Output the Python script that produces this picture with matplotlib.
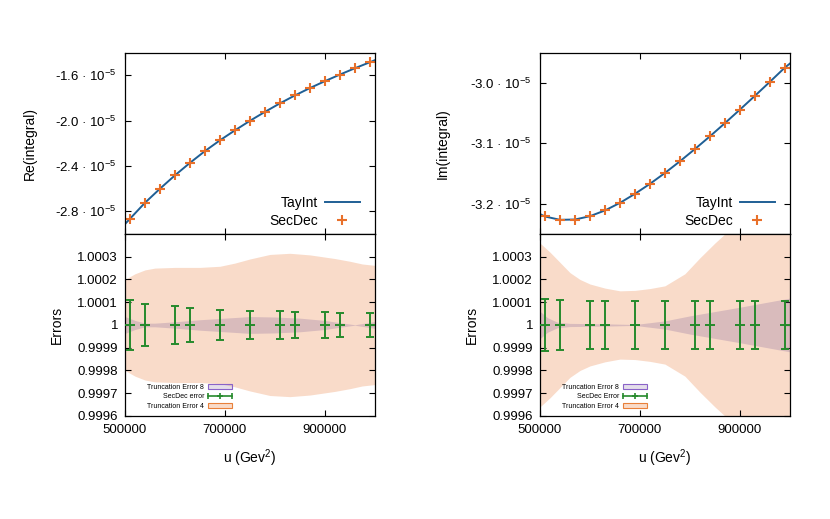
import numpy as np
import matplotlib
matplotlib.use('Agg')
import matplotlib.pyplot as plt
from matplotlib.ticker import FixedLocator, FuncFormatter
from matplotlib.patches import Patch
from matplotlib.lines import Line2D
from matplotlib.legend_handler import HandlerLine2D

plt.rcParams['font.family'] = ['Liberation Sans', 'DejaVu Sans']
plt.rcParams['mathtext.default'] = 'regular'
plt.rcParams['axes.unicode_minus'] = False

# --- data (integral values in units of 1e-5, errors in units of 1e-4) ---
u_sec = [510000, 540000, 570000, 600000, 630000, 660000, 690000, 720000, 750000,
         780000, 810000, 840000, 870000, 900000, 930000, 960000, 990000]
re_sec = [-2.865, -2.724, -2.600, -2.482, -2.372, -2.268, -2.173, -2.085, -2.001,
          -1.922, -1.847, -1.777, -1.712, -1.651, -1.593, -1.537, -1.484]
im_sec = [-3.221, -3.2265, -3.226, -3.2205, -3.211, -3.1985, -3.1835, -3.167, -3.149,
          -3.1297, -3.1094, -3.0884, -3.0666, -3.0442, -3.0214, -2.9982, -2.9746]

u_tay = [500000] + u_sec + [1000000]
re_tay = [-2.912] + re_sec + [-1.466]
im_tay = [-3.217] + im_sec + [-2.968]

# SecDec error bars on the ratio plots
u_err = [510000, 540000, 600000, 630000, 690000, 750000, 810000, 840000, 900000, 930000, 990000]
err_re = [1.09, 0.93, 0.82, 0.74, 0.68, 0.63, 0.60, 0.58, 0.56, 0.54, 0.51]
err_im = [1.14, 1.08, 1.06, 1.05, 1.04, 1.04, 1.04, 1.04, 1.04, 1.05, 1.06]

# truncation error bands (half widths)
u_te4_re = [500000, 520000, 540000, 560000, 600000, 650000, 690000, 720000, 750000,
            790000, 830000, 870000, 920000, 950000, 975000, 1000000]
te4_re = [2.0, 2.25, 2.42, 2.5, 2.53, 2.53, 2.58, 2.72, 2.9, 3.1, 3.15, 3.08, 2.92, 2.8, 2.68, 2.62]
u_te8_re = [500000, 520000, 540000, 560000, 600000, 650000, 700000, 750000, 800000,
            850000, 900000, 930000, 960000, 980000, 1000000]
te8_re = [0.37, 0.2, 0.08, 0.08, 0.14, 0.23, 0.3, 0.37, 0.35, 0.3, 0.2, 0.1, 0.01, 0.08, 0.15]

u_te4_im = [500000, 520000, 540000, 560000, 580000, 600000, 630000, 660000, 690000,
            720000, 750000, 790000, 820000, 850000, 870000, 900000, 950000, 1000000]
te4_im = [3.6, 3.2, 2.75, 2.3, 2.0, 1.8, 1.62, 1.5, 1.52, 1.6, 1.72, 2.25, 2.95, 3.6, 4.0, 4.6, 5.5, 6.2]
u_te8_im = [500000, 515000, 535000, 560000, 630000, 690000, 750000, 800000, 900000, 1000000]
te8_im = [0.6, 0.32, 0.12, 0.07, 0.05, 0.02, 0.18, 0.4, 0.78, 1.18]

re_ticks = [-2.8e-5, -2.4e-5, -2.0e-5, -1.6e-5]
im_ticks = [-3.2e-5, -3.1e-5, -3.0e-5]
err_ticks = [0.9996, 0.9997, 0.9998, 0.9999, 1.0, 1.0001, 1.0002, 1.0003]
u_ticks = [500000, 700000, 900000]

c_line = '#1f5f95'
c_pts = '#e8702a'
c_err = '#268a2c'
c_te4 = '#e8702a'
c_te8 = '#7a5c98'

fig = plt.figure(figsize=(8.3, 5.19), dpi=100)


def style(ax):
    ax.tick_params(direction='in', top=True, right=True, length=4.5, width=0.8,
                   labelsize=9.5, colors='black')
    for s in ax.spines.values():
        s.set_linewidth(0.9)
    ax.set_xlim(500000, 1000000)
    ax.xaxis.set_major_locator(FixedLocator(u_ticks))


def sci(v, pos):
    return '%.1f · 10$^{-5}$' % (v / 1e-5)


panels = [
    (0.1506, re_tay, re_sec, re_ticks, (-3.0e-5, -1.4e-5), 'Re(integral)', -0.352,
     u_te4_re, te4_re, u_te8_re, te8_re, err_re, 'SecDec error'),
    (0.6506, im_tay, im_sec, im_ticks, (-3.25e-5, -2.95e-5), 'Im(integral)', -0.361,
     u_te4_im, te4_im, u_te8_im, te8_im, err_im, 'SecDec Error'),
]

for (left, tay, sec, yt, yl, lab, labx, u4, t4, u8, t8, err, errlab) in panels:
    # upper panel: integral
    ax = fig.add_axes([left, 0.5491, 0.301, 0.3493])
    style(ax)
    ax.plot(u_tay, np.array(tay) * 1e-5, color=c_line, lw=1.4, label='TayInt')
    ax.plot(u_sec, np.array(sec) * 1e-5, ls='none', marker='+', ms=7, mew=1.5,
            color=c_pts, label='SecDec')
    ax.set_ylim(*yl)
    ax.yaxis.set_major_locator(FixedLocator(yt))
    ax.yaxis.set_major_formatter(FuncFormatter(sci))
    ax.tick_params(axis='y', pad=6)
    ax.set_xticklabels([])
    ax.set_ylabel(lab, fontsize=10)
    ax.yaxis.set_label_coords(labx, 0.5)
    ax.legend(loc='lower right', bbox_to_anchor=(0.94, 0.035), frameon=False,
              markerfirst=False, fontsize=10, handlelength=2.5, handletextpad=0.5,
              labelspacing=0.25, borderpad=0, borderaxespad=0)

    # lower panel: errors
    bx = fig.add_axes([left, 0.1985, 0.301, 0.3507])
    style(bx)
    t4 = np.array(t4) * 1e-4
    t8 = np.array(t8) * 1e-4
    bx.fill_between(u4, 1 - t4, 1 + t4, color=c_te4, alpha=0.25, lw=0, zorder=1)
    bx.fill_between(u8, 1 - t8, 1 + t8, color=c_te8, alpha=0.25, lw=0, zorder=2)
    ratio = [1.0] * len(u_err)
    bx.errorbar(u_err, ratio, yerr=np.array(err) * 1e-4, fmt='+', color=c_err,
                ms=7, mew=1.4, elinewidth=1.4, capsize=3, capthick=1.4, zorder=3)
    bx.set_ylim(0.9996, 1.0004)
    bx.yaxis.set_major_locator(FixedLocator(err_ticks))
    bx.yaxis.set_major_formatter(FuncFormatter(lambda v, p: '%g' % round(v, 4)))
    bx.xaxis.set_major_formatter(FuncFormatter(lambda v, p: '%d' % v))
    bx.tick_params(axis='y', pad=5)
    bx.tick_params(axis='x', pad=6)
    bx.set_ylabel('Errors', fontsize=10)
    bx.yaxis.set_label_coords(-0.245, 0.5)
    bx.set_xlabel('u (Gev$^2$)', fontsize=10)
    bx.xaxis.set_label_coords(0.5, -0.17)

    h8 = Patch(facecolor=(0.478, 0.361, 0.596, 0.2), edgecolor='#8a63c8', lw=0.8)
    h4 = Patch(facecolor=(0.91, 0.44, 0.165, 0.25), edgecolor='#e8803a', lw=0.8)
    he1 = Line2D([], [], color=c_err, lw=1.2, marker='+', ms=4, mew=1.2)
    he2 = Line2D([], [], color=c_err, ls='none', marker='|', ms=4, mew=1.2)
    bx.legend([h8, (he1, he2), h4], ['Truncation Error 8', errlab, 'Truncation Error 4'],
              handler_map={he2: HandlerLine2D(numpoints=2, marker_pad=0)},
              loc='lower right', bbox_to_anchor=(0.428, 0.035), frameon=False,
              markerfirst=False, fontsize=5, handlelength=3.4, handleheight=0.8,
              handletextpad=0.6, labelspacing=0.35, borderpad=0, borderaxespad=0)

fig.savefig('out.png', dpi=100)
